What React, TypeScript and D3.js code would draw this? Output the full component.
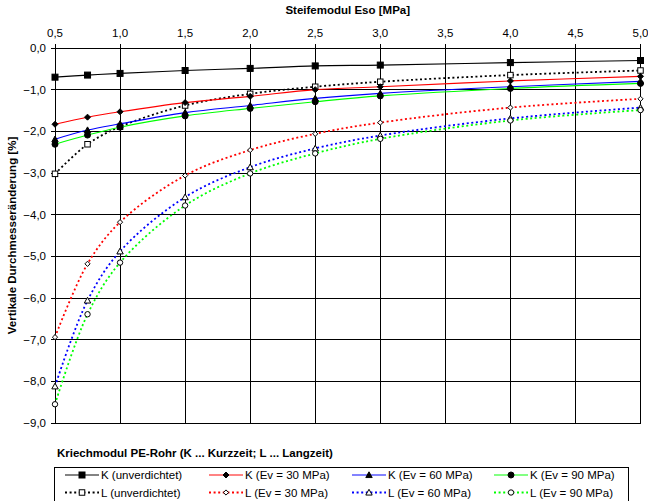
import * as d3 from 'd3';

// Steifemodul Eso [MPa]
const E_SO = [0.5, 0.75, 1.0, 1.5, 2.0, 2.5, 3.0, 4.0, 5.0];

// Kurzzeit
const K_UNVERD = [-0.7, -0.65, -0.61, -0.54, -0.49, -0.43, -0.41, -0.35, -0.3];
const K_EV30 = [-1.83, -1.66, -1.53, -1.31, -1.16, -1.0, -0.93, -0.79, -0.68];
const K_EV60 = [-2.19, -1.97, -1.82, -1.55, -1.38, -1.21, -1.09, -0.93, -0.8];
const K_EV90 = [-2.31, -2.09, -1.9, -1.63, -1.45, -1.29, -1.15, -0.97, -0.85];

// Langzeit
const L_UNVERD = [-3.02, -2.31, -1.89, -1.38, -1.1, -0.93, -0.81, -0.65, -0.54];
const L_EV30 = [-6.94, -5.18, -4.18, -3.06, -2.45, -2.06, -1.79, -1.43, -1.22];
const L_EV60 = [-8.12, -6.06, -4.88, -3.58, -2.86, -2.41, -2.1, -1.69, -1.43];
const L_EV90 = [-8.55, -6.39, -5.15, -3.78, -3.01, -2.53, -2.18, -1.74, -1.49];

const X_TICKS = [0.5, 1.0, 1.5, 2.0, 2.5, 3.0, 3.5, 4.0, 4.5, 5.0];
const Y_TICKS = [0, -1, -2, -3, -4, -5, -6, -7, -8, -9];

const LEGEND_TITLE = 'Kriechmodul PE-Rohr (K ... Kurzzeit; L ... Langzeit)';

const series = [
  { name: 'K (unverdichtet)', values: K_UNVERD, color: '#000000', dashed: false, marker: 'square' },
  { name: 'K (Ev = 30 MPa)', values: K_EV30, color: '#ff0000', dashed: false, marker: 'diamond' },
  { name: 'K (Ev = 60 MPa)', values: K_EV60, color: '#0000ff', dashed: false, marker: 'triangle' },
  { name: 'K (Ev = 90 MPa)', values: K_EV90, color: '#00ff00', dashed: false, marker: 'circle' },
  { name: 'L (unverdichtet)', values: L_UNVERD, color: '#000000', dashed: true, marker: 'square' },
  { name: 'L (Ev = 30 MPa)', values: L_EV30, color: '#ff0000', dashed: true, marker: 'diamond' },
  { name: 'L (Ev = 60 MPa)', values: L_EV60, color: '#0000ff', dashed: true, marker: 'triangle' },
  { name: 'L (Ev = 90 MPa)', values: L_EV90, color: '#00ff00', dashed: true, marker: 'circle' },
];

const FONT = '"Liberation Sans", Arial, sans-serif';
const fmt = (v: number) => d3.format('.1f')(v).replace('.', ',');

function Marker({ type, x, y, open }: { type: string; x: number; y: number; open: boolean }) {
  const fill = open ? '#fff' : '#000';
  const sw = 1;
  if (type === 'square') {
    const s = open ? 5.5 : 6;
    return <rect x={x - s / 2} y={y - s / 2} width={s} height={s} fill={fill} stroke="#000" strokeWidth={sw} />;
  }
  if (type === 'diamond') {
    const s = open ? 2.6 : 3;
    return (
      <path d={`M${x},${y - s}L${x + s},${y}L${x},${y + s}L${x - s},${y}Z`} fill={fill} stroke="#000" strokeWidth={sw} />
    );
  }
  if (type === 'triangle') {
    const s = 3.2;
    return (
      <path d={`M${x},${y - s}L${x + s},${y + s * 0.8}L${x - s},${y + s * 0.8}Z`} fill={fill} stroke="#000" strokeWidth={sw} />
    );
  }
  return <circle cx={x} cy={y} r={open ? 2.7 : 3} fill={fill} stroke="#000" strokeWidth={sw} />;
}

export default function App() {
  const width = 648;
  const height = 501;
  const x = d3.scaleLinear().domain([0.5, 5]).range([55, 640.5]);
  const y = d3.scaleLinear().domain([0, -9]).range([48, 423]);

  const line = d3
    .line<number>()
    .x((_, i) => x(E_SO[i]))
    .y((d) => y(d))
    .curve(d3.curveCatmullRom.alpha(0.5));

  // draw Langzeit first, Kurzzeit on top
  const drawOrder = [...series.slice(4), ...series.slice(0, 4)];

  const legendCols = [65, 209, 352, 494];
  const legendRows = [475, 492.5];

  return (
    <svg width={width} height={height} style={{ position: 'absolute', left: 0, top: 0 }} fontFamily={FONT}>
      <rect width={width} height={height} fill="#fff" />

      {/* grid */}
      {X_TICKS.map((t) => (
        <line key={'gx' + t} x1={x(t)} x2={x(t)} y1={44} y2={y(-9)} stroke="#000" strokeWidth={1} shapeRendering="crispEdges" />
      ))}
      {Y_TICKS.map((t) => (
        <line key={'gy' + t} x1={51} x2={x(5)} y1={y(t)} y2={y(t)} stroke="#000" strokeWidth={1} shapeRendering="crispEdges" />
      ))}

      {/* top axis */}
      <text x={(x(0.5) + x(5)) / 2} y={14} textAnchor="middle" fontSize={11.5} fontWeight="bold">
        Steifemodul Eso [MPa]
      </text>
      {X_TICKS.map((t) => (
        <text key={'tx' + t} x={x(t)} y={37} textAnchor="middle" fontSize={11.5}>
          {fmt(t)}
        </text>
      ))}

      {/* left axis */}
      {Y_TICKS.map((t) => (
        <text key={'ty' + t} x={46} y={y(t) + 4} textAnchor="end" fontSize={11.5}>
          {fmt(t)}
        </text>
      ))}
      <text
        transform={`translate(16,${(y(0) + y(-9)) / 2}) rotate(-90)`}
        textAnchor="middle"
        fontSize={11.5}
        fontWeight="bold"
      >
        Vertikale Durchmesseränderung [%]
      </text>

      {/* series */}
      {drawOrder.map((s) => (
        <g key={s.name}>
          <path
            d={line(s.values) || ''}
            fill="none"
            stroke={s.color}
            strokeWidth={s.dashed ? 1.8 : 1.1}
            strokeDasharray={s.dashed ? '2,2.6' : undefined}
          />
          {s.values.map((v, i) => (
            <Marker key={i} type={s.marker} x={x(E_SO[i])} y={y(v)} open={s.dashed} />
          ))}
        </g>
      ))}

      {/* legend */}
      <text x={57} y={457} fontSize={11.5} fontWeight="bold">
        {LEGEND_TITLE}
      </text>
      <rect x={54.5} y={467.5} width={574} height={40} fill="#fff" stroke="#000" strokeWidth={1} />
      {series.map((s, i) => {
        const lx = legendCols[i % 4];
        const ly = legendRows[Math.floor(i / 4)];
        return (
          <g key={'lg' + s.name}>
            <line
              x1={lx}
              x2={lx + 34}
              y1={ly}
              y2={ly}
              stroke={s.color}
              strokeWidth={s.dashed ? 2 : 1.6}
              strokeOpacity={s.dashed ? 1 : 0.65}
              strokeDasharray={s.dashed ? '2,2.6' : undefined}
            />
            <Marker type={s.marker} x={lx + 17} y={ly} open={s.dashed} />
            <text x={lx + 36} y={ly + 4} fontSize={11.5}>
              {s.name}
            </text>
          </g>
        );
      })}
    </svg>
  );
}
